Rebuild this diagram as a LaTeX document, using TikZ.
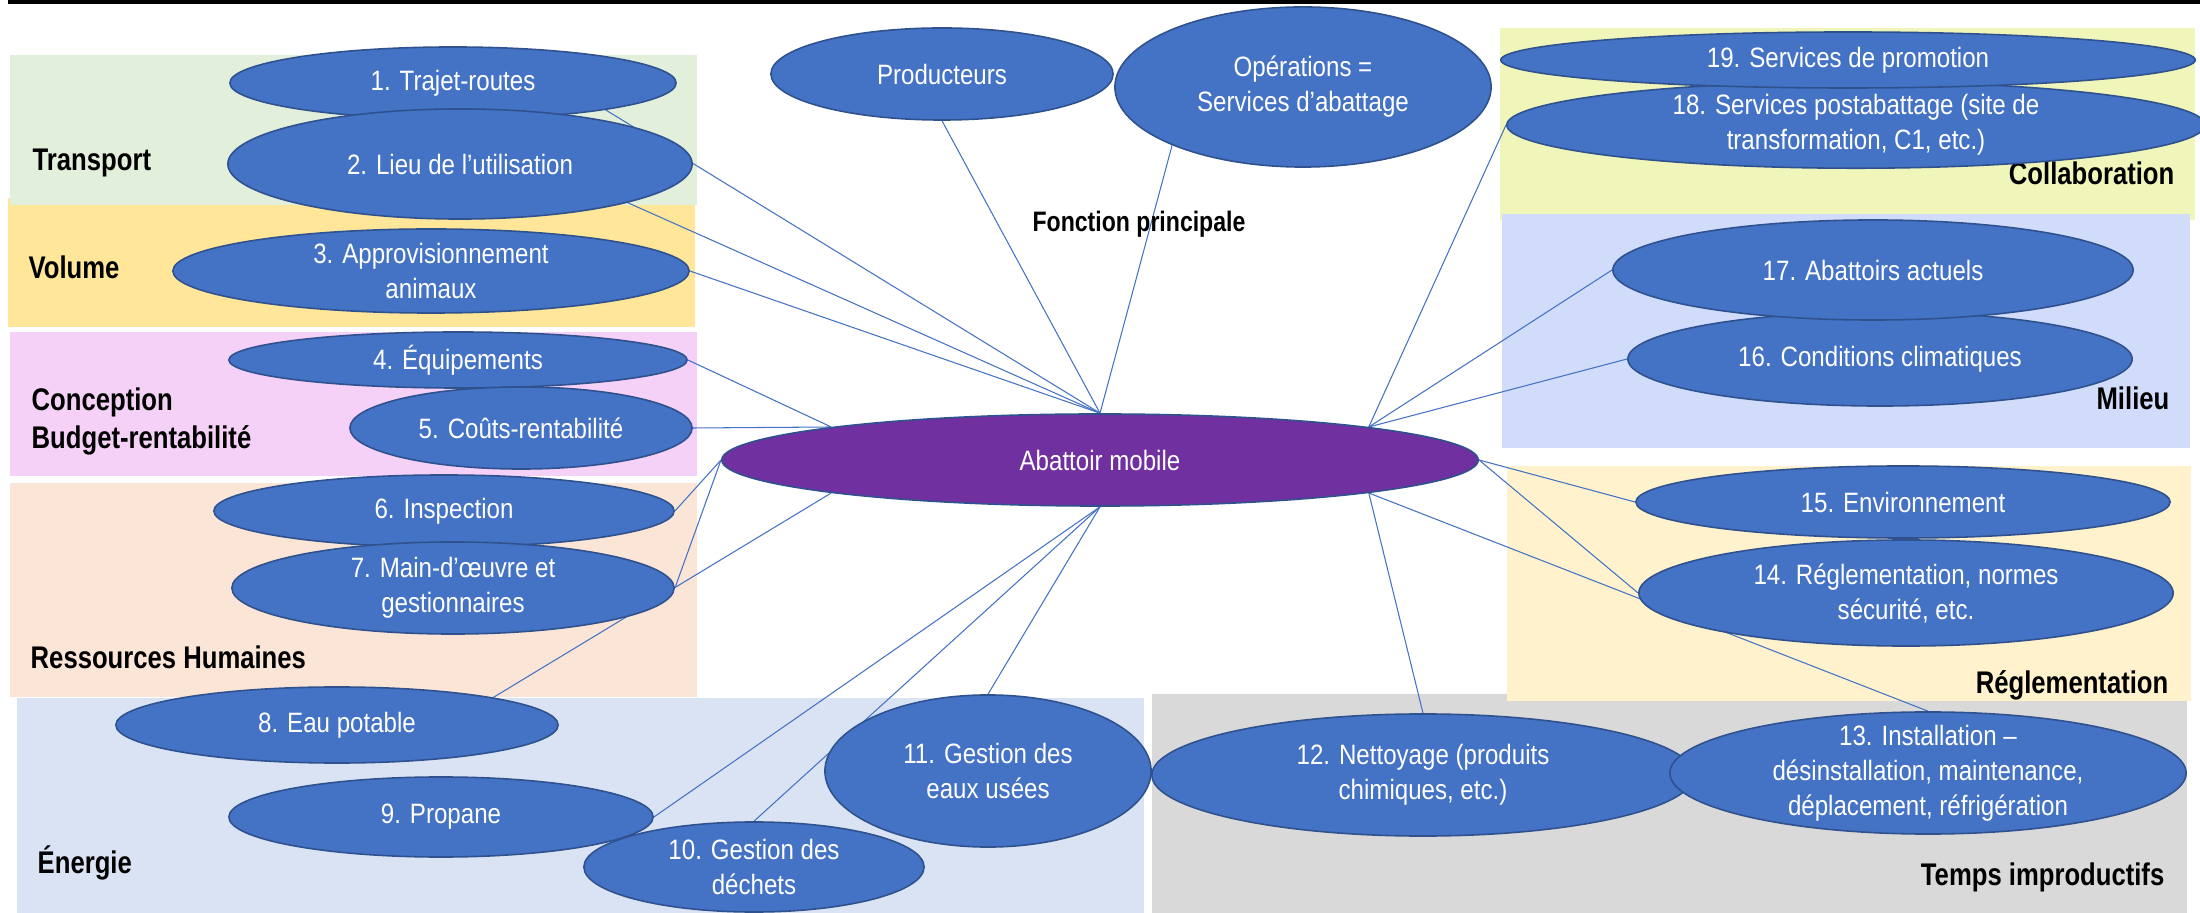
\documentclass[tikz,border=0pt]{standalone}
\usepackage{fontspec}
\setmainfont{Liberation Sans}[FakeStretch=0.86]
\newfontfamily\etiqfont{Liberation Sans}[FakeStretch=0.82]
\usepackage{tikz}
\usetikzlibrary{shapes.geometric}
\definecolor{bleu}{HTML}{4472C4}
\definecolor{bordure}{HTML}{2F528F}
\definecolor{violet}{HTML}{7030A0}
\definecolor{cTransport}{HTML}{E2EFDA}
\definecolor{cVolume}{HTML}{FFE699}
\definecolor{cConception}{HTML}{F5D0F7}
\definecolor{cRH}{HTML}{FBE5D6}
\definecolor{cEnergie}{HTML}{DAE3F3}
\definecolor{cTemps}{HTML}{D9D9D9}
\definecolor{cRegl}{HTML}{FFF2CC}
\definecolor{cCollab}{HTML}{F0F5B9}
\definecolor{cMilieu}{HTML}{D0DCFA}
\pgfdeclarelayer{fond}
\pgfdeclarelayer{liens}
\pgfsetlayers{fond,liens,main}

\begin{document}
\begin{tikzpicture}[x=0.01cm, y=-0.01cm,
	facteur/.style={ellipse, draw=bordure, line width=0.45pt, fill=bleu, text=white, inner sep=0pt, align=center, font=\fontsize{7.97}{9.96}\selectfont},
	etiquette/.style={font=\etiqfont\bfseries\fontsize{8.9}{10.8}\selectfont, align=left, inner sep=0pt},
	lien/.style={draw=bleu, line width=0.3pt}]
			\useasboundingbox (0,0) rectangle (2200,913);
			\begin{pgfonlayer}{fond}
				\draw[line width=1pt] (8,1.8) -- (2200,1.8);
				\fill[cVolume] (8,198) rectangle (695,327);
				\fill[cTransport] (10,55) rectangle (697,205);
				\fill[cConception] (10,332) rectangle (697,476);
				\fill[cRH] (10,483) rectangle (697,697);
				\fill[cEnergie] (17,698) rectangle (1144,913);
				\fill[cTemps] (1152,694) rectangle (2187,913);
				\fill[cRegl] (1507,466) rectangle (2191,701);
				\fill[cCollab] (1500,28) rectangle (2195,220);
				\fill[cMilieu] (1502,214) rectangle (2190,448);
			\end{pgfonlayer}
			
			\node[etiquette, anchor=west] (transport) at (32,163) {Transport};
			\node[etiquette, anchor=west] (volume) at (28,267) {Volume};
			\node[etiquette, anchor=west] (conception) at (31,421) {Conception\\Budget-rentabilité};
			\node[etiquette, anchor=west] (rh) at (30,657) {Ressources Humaines};
			\node[etiquette, anchor=west] (energie) at (37,863) {Énergie};
			\node[etiquette, font=\etiqfont\bfseries\fontsize{8}{9}\selectfont] (fonction) at (1139,224) {Fonction principale};
			\node[etiquette, anchor=east] (collab) at (2175,173) {Collaboration};
			\node[etiquette, anchor=east] (milieu) at (2170,398) {Milieu};
			\node[etiquette, anchor=east] (regl) at (2169,685) {Réglementation};
			\node[etiquette, anchor=east] (temps) at (2165,877) {Temps improductifs};
			
			\node[facteur, minimum width=4.46cm, minimum height=0.72cm] (f1) at (453,83) {1. Trajet-routes};
			\node[facteur, minimum width=4.64cm, minimum height=1.10cm] (f2) at (460,164) {2. Lieu de l’utilisation};
			\node[facteur, minimum width=5.16cm, minimum height=0.84cm] (f3) at (431,271) {3. Approvisionnement\\animaux};
			\node[facteur, minimum width=4.58cm, minimum height=0.56cm] (f4) at (458,360) {4. Équipements};
			\node[facteur, minimum width=3.42cm, minimum height=0.82cm] (f5) at (521,428) {5. Coûts-rentabilité};
			\node[facteur, minimum width=4.60cm, minimum height=0.72cm] (f6) at (444,511) {6. Inspection};
			\node[facteur, minimum width=4.42cm, minimum height=0.92cm] (f7) at (453,588) {7. Main-d’œuvre et\\gestionnaires};
			\node[facteur, minimum width=4.42cm, minimum height=0.76cm] (f8) at (337,725) {8. Eau potable};
			\node[facteur, minimum width=4.24cm, minimum height=0.80cm] (f9) at (441,817) {9. Propane};
			\node[facteur, minimum width=3.26cm, minimum height=1.52cm] (f11) at (988,771) {11. Gestion des\\eaux usées};
			\node[facteur, minimum width=3.40cm, minimum height=0.90cm] (f10) at (754,867) {10. Gestion des\\déchets};
			\node[facteur, minimum width=5.42cm, minimum height=1.22cm] (f12) at (1423,775) {12. Nettoyage (produits\\chimiques, etc.)};
			\node[facteur, minimum width=5.16cm, minimum height=1.22cm, inner ysep=-0.05cm] (f13) at (1928,773) {13. Installation –\\désinstallation, maintenance,\\déplacement, réfrigération};
			\node[facteur, minimum width=5.34cm, minimum height=0.72cm] (f15) at (1903,502) {15. Environnement};
			\node[facteur, minimum width=5.34cm, minimum height=1.06cm] (f14) at (1906,593) {14. Réglementation, normes\\sécurité, etc.};
			\node[facteur, minimum width=5.04cm, minimum height=0.94cm] (f16) at (1880,359) {16. Conditions climatiques};
			\node[facteur, minimum width=5.20cm, minimum height=1.00cm] (f17) at (1873,270) {17. Abattoirs actuels};
			\node[facteur, minimum width=6.98cm, minimum height=0.84cm] (f18) at (1856,125) {18. Services postabattage (site de\\transformation, C1, etc.)};
			\node[facteur, minimum width=6.94cm, minimum height=0.56cm] (f19) at (1848,60) {19. Services de promotion};
			\node[facteur, minimum width=3.42cm, minimum height=0.92cm] (prod) at (942,74) {Producteurs};
			\node[facteur, minimum width=3.76cm, minimum height=1.60cm] (oper) at (1303,87) {Opérations =\\Services d’abattage};
			\node[facteur, fill=violet, minimum width=7.56cm, minimum height=0.92cm] (abat) at (1100,460) {Abattoir mobile};
			
			\begin{pgfonlayer}{liens}
				\draw[lien] (f1.-10) -- (abat.north);
				\draw[lien] (f2.-13) -- (abat.north);
				\draw[lien] (f3.east) -- (abat.north);
				\draw[lien] (prod.south) -- (abat.north);
				\draw[lien] (oper.204) -- (abat.north);
				\draw[lien] (f4.east) -- (abat.173);
				\draw[lien] (f5.east) -- (abat.173);
				\draw[lien] (f6.east) -- (abat.west);
				\draw[lien] (f7.east) -- (abat.west);
				\draw[lien] (f8.10) -- (abat.187);
				\draw[lien] (f9.east) -- (abat.south);
				\draw[lien] (f10.north) -- (abat.south);
				\draw[lien] (f11.north) -- (abat.south);
				\draw[lien] (f12.north) -- (abat.353);
				\draw[lien] (f13.north) -- (abat.353);
				\draw[lien] (f14.west) -- (abat.east);
				\draw[lien] (f15.west) -- (abat.east);
				\draw[lien] (f16.west) -- (abat.7);
				\draw[lien] (f17.west) -- (abat.7);
				\draw[lien] (f18.west) -- (abat.7);
			\end{pgfonlayer}
		\end{tikzpicture}
\end{document}
